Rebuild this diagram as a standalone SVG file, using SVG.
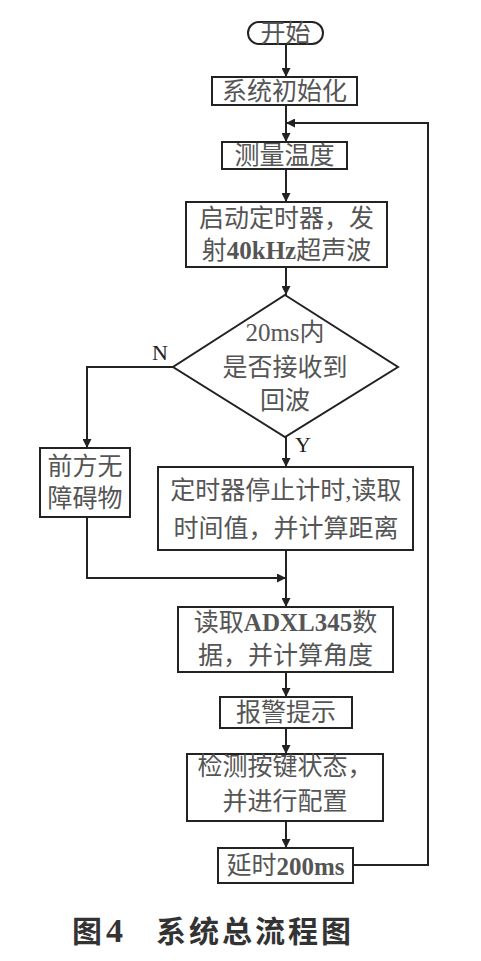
<svg xmlns="http://www.w3.org/2000/svg" width="481" height="961" viewBox="0 0 481 961">
<defs>
<marker id="ah" viewBox="0 0 10 10" refX="10" refY="5" markerWidth="9" markerHeight="9" markerUnits="userSpaceOnUse" orient="auto">
<path d="M0,0 L10,5 L0,10 Z" fill="#222"/>
</marker>
<style>
.b{fill:#fff;stroke:#222;stroke-width:2}
.t{font-family:"Liberation Serif","Noto Sans CJK SC",serif;font-size:25px;fill:#555;text-anchor:middle;dominant-baseline:central}
.l{font-family:"Liberation Serif",serif;font-size:22px;fill:#222;text-anchor:middle;dominant-baseline:central}
.c{fill:none;stroke:#222;stroke-width:2}
.cap{font-family:"Noto Sans CJK SC","Liberation Sans",sans-serif;font-size:30px;font-weight:bold;fill:#333}
</style>
</defs>
<rect width="481" height="961" fill="#fff"/>
<g id="connectors">
<path class="c" d="M286,44 V77" marker-end="url(#ah)"/>
<path class="c" d="M286,105 V142" marker-end="url(#ah)"/>
<path class="c" d="M286,169 V202" marker-end="url(#ah)"/>
<path class="c" d="M286,267 V295" marker-end="url(#ah)"/>
<path class="c" d="M286,437 V467" marker-end="url(#ah)"/>
<path class="c" d="M173,367 H87 V448" marker-end="url(#ah)"/>
<path class="c" d="M87,517 V578 H286" marker-end="url(#ah)"/>
<path class="c" d="M286,550 V607" marker-end="url(#ah)"/>
<path class="c" d="M286,672 V697" marker-end="url(#ah)"/>
<path class="c" d="M286,728 V754" marker-end="url(#ah)"/>
<path class="c" d="M286,821 V848" marker-end="url(#ah)"/>
<path class="c" d="M353,865 H428 V123 H286" marker-end="url(#ah)"/>
<text class="l" x="160" y="352">N</text>
<text class="l" x="303" y="444">Y</text>
</g>
<g id="start">
<rect class="b" x="248" y="22" width="75" height="22" rx="11"/>
<text class="t" x="285.5" y="33">开始</text>
</g>
<g id="init">
<rect class="b" x="212" y="77" width="145" height="28"/>
<text class="t" x="284.5" y="91">系统初始化</text>
</g>
<g id="temp">
<rect class="b" x="222" y="142" width="125" height="27"/>
<text class="t" x="284.5" y="155.5">测量温度</text>
</g>
<g id="timer">
<rect class="b" x="186" y="202" width="201" height="65"/>
<text class="t" x="286.5" y="218">启动定时器，发</text>
<text class="t" x="286.5" y="250">射<tspan font-weight="bold">40kHz</tspan>超声波</text>
</g>
<g id="decision">
<polygon class="b" points="285,295 398,367 285,437 173,367"/>
<text class="t" x="285" y="332">20ms内</text>
<text class="t" x="285" y="367">是否接收到</text>
<text class="t" x="285" y="400">回波</text>
</g>
<g id="noobstacle">
<rect class="b" x="40" y="448" width="90" height="69"/>
<text class="t" x="85" y="466">前方无</text>
<text class="t" x="85" y="498">障碍物</text>
</g>
<g id="stoptimer">
<rect class="b" x="158" y="467" width="255" height="83"/>
<text class="t" x="286" y="490">定时器停止计时,读取</text>
<text class="t" x="286" y="528">时间值，并计算距离</text>
</g>
<g id="adxl">
<rect class="b" x="178" y="607" width="215" height="65"/>
<text class="t" x="285.5" y="622">读取<tspan font-weight="bold">ADXL345</tspan>数</text>
<text class="t" x="285.5" y="655">据，并计算角度</text>
</g>
<g id="alarm">
<rect class="b" x="220" y="697" width="132" height="31"/>
<text class="t" x="286" y="712.5">报警提示</text>
</g>
<g id="keys">
<rect class="b" x="187" y="754" width="196" height="67"/>
<text class="t" x="285" y="766">检测按键状态，</text>
<text class="t" x="285" y="801">并进行配置</text>
</g>
<g id="delay">
<rect class="b" x="218" y="848" width="135" height="35"/>
<text class="t" x="285.5" y="865.5">延时<tspan font-weight="bold">200ms</tspan></text>
</g>
<text class="cap" x="72" y="942">图<tspan x="106" font-family="Liberation Serif" font-size="34">4</tspan><tspan x="156" letter-spacing="3">系统总流程图</tspan></text>
</svg>
